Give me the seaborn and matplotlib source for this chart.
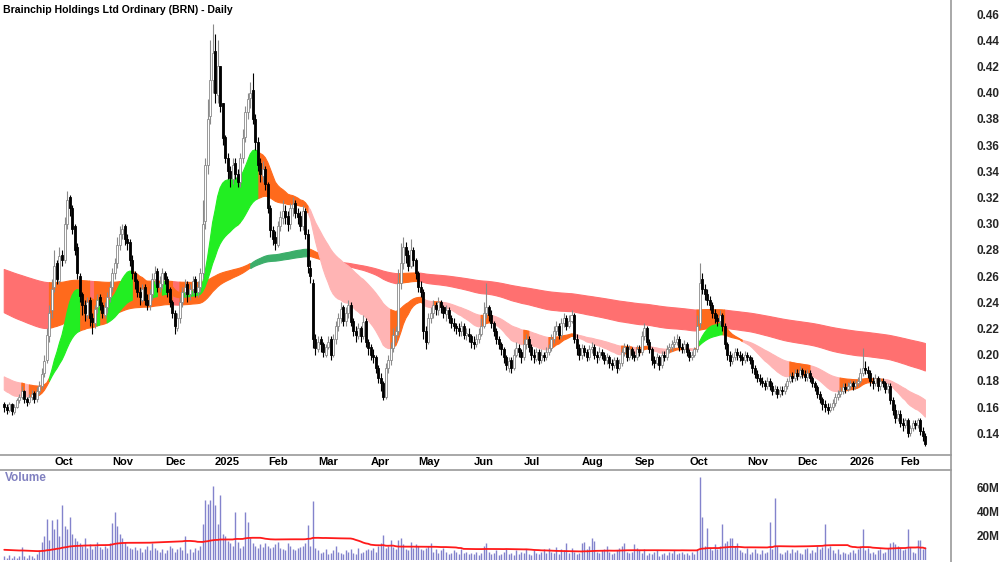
import numpy as np
import pandas as pd
import matplotlib
matplotlib.use("Agg")
import matplotlib.pyplot as plt
from matplotlib.lines import Line2D
import seaborn as sns

# daily bars, prices in 1/1000 $, volume in millions
start_date = "2024-09-04"
asx_holidays = ["2024-12-25", "2024-12-26", "2025-01-01", "2025-01-27", "2025-04-18",
                "2025-04-21", "2025-04-25", "2025-06-09", "2025-12-25", "2025-12-26",
                "2026-01-01", "2026-01-26"]

opens = [
    162, 160, 158, 162, 156, 160, 165, 168, 172, 166, 164, 168, 171, 166, 172, 176, 186, 196, 214, 234,
    252, 270, 256, 276, 272, 300, 320, 312, 298, 282, 260, 246, 238, 230, 242, 228, 224, 236, 244, 238,
    230, 236, 244, 252, 262, 270, 284, 292, 298, 288, 286, 272, 262, 256, 248, 242, 252, 242, 238, 246,
    258, 264, 252, 254, 262, 258, 250, 240, 232, 220, 228, 240, 248, 254, 246, 250, 258, 248, 252, 262,
    302, 345, 382, 410, 432, 398, 420, 392, 366, 350, 340, 334, 346, 338, 332, 350, 366, 385, 396, 402,
    380, 362, 346, 336, 342, 330, 312, 295, 290, 284, 298, 304, 310, 306, 300, 312, 316, 308, 306, 298,
    310, 292, 266, 255, 212, 204, 212, 208, 200, 206, 212, 200, 212, 222, 228, 236, 226, 232, 238, 226,
    218, 214, 220, 214, 226, 210, 206, 200, 198, 190, 182, 178, 168, 190, 196, 205, 215, 218, 255, 270,
    282, 276, 268, 280, 272, 262, 252, 248, 218, 210, 228, 232, 238, 234, 240, 236, 231, 234, 228, 224,
    222, 220, 218, 222, 215, 216, 214, 210, 208, 212, 216, 222, 232, 236, 230, 224, 218, 212, 208, 204,
    198, 190, 196, 190, 200, 205, 202, 198, 208, 212, 206, 200, 197, 202, 196, 200, 198, 202, 205, 212,
    218, 222, 215, 224, 228, 222, 226, 230, 212, 205, 200, 205, 202, 198, 204, 206, 200, 198, 202, 200,
    196, 198, 194, 192, 196, 190, 194, 202, 206, 198, 204, 200, 198, 204, 202, 214, 220, 210, 204, 196,
    194, 198, 192, 200, 198, 204, 206, 208, 210, 212, 206, 204, 208, 202, 198, 200, 204, 224, 258, 250,
    246, 242, 238, 232, 228, 226, 230, 222, 208, 200, 195, 198, 202, 200, 198, 196, 200, 198, 196, 190,
    185, 182, 180, 178, 176, 180, 176, 172, 174, 170, 173, 172, 176, 180, 184, 182, 186, 184, 188, 185,
    183, 186, 182, 178, 175, 170, 166, 162, 160, 158, 160, 163, 168, 170, 172, 175, 174, 176, 178, 176,
    178, 180, 186, 190, 188, 186, 180, 178, 182, 176, 180, 178, 174, 176, 165, 158, 152, 155, 148, 146,
    150, 140, 144, 148, 146, 150, 142, 138,
]
highs = [
    164, 162, 164, 163, 162, 167, 170, 176, 173, 168, 170, 173, 172, 175, 180, 190, 200, 220, 238, 258,
    280, 272, 282, 280, 305, 325, 322, 314, 300, 285, 262, 248, 242, 244, 244, 232, 238, 246, 246, 240,
    240, 248, 256, 266, 274, 290, 298, 300, 300, 292, 288, 276, 264, 258, 252, 254, 254, 246, 250, 262,
    268, 266, 260, 266, 264, 260, 252, 242, 234, 232, 244, 252, 258, 256, 254, 260, 260, 256, 266, 318,
    350, 395, 440, 452, 445, 440, 420, 392, 368, 354, 344, 350, 350, 342, 354, 372, 390, 400, 408, 415,
    384, 366, 350, 348, 344, 332, 314, 298, 294, 302, 310, 318, 314, 310, 316, 320, 318, 312, 310, 314,
    312, 296, 272, 258, 216, 214, 214, 210, 208, 214, 214, 216, 226, 232, 240, 238, 236, 242, 240, 228,
    222, 224, 222, 230, 228, 212, 208, 204, 200, 192, 186, 180, 194, 200, 210, 220, 222, 265, 285, 290,
    286, 280, 288, 282, 274, 264, 256, 250, 222, 232, 236, 242, 240, 244, 242, 238, 238, 236, 230, 228,
    224, 224, 226, 224, 220, 220, 216, 214, 216, 220, 228, 240, 255, 238, 234, 226, 220, 214, 210, 206,
    200, 198, 198, 204, 210, 208, 204, 212, 216, 214, 208, 204, 205, 204, 204, 202, 206, 208, 216, 222,
    226, 224, 228, 232, 230, 230, 234, 232, 216, 208, 208, 207, 204, 207, 210, 208, 203, 206, 204, 202,
    201, 200, 197, 198, 198, 197, 205, 209, 208, 207, 206, 203, 207, 207, 218, 224, 222, 212, 206, 199,
    201, 200, 203, 203, 207, 209, 211, 214, 216, 214, 209, 211, 210, 204, 203, 206, 230, 270, 262, 254,
    250, 245, 240, 235, 231, 234, 232, 224, 210, 203, 201, 205, 205, 203, 201, 203, 202, 200, 198, 192,
    188, 185, 183, 181, 183, 182, 179, 177, 176, 176, 176, 178, 182, 186, 187, 189, 189, 191, 190, 188,
    189, 188, 184, 180, 177, 172, 168, 165, 163, 163, 166, 171, 173, 175, 178, 178, 179, 181, 180, 181,
    183, 190, 205, 195, 191, 188, 183, 185, 184, 182, 182, 180, 178, 178, 168, 162, 158, 158, 152, 152,
    152, 146, 150, 150, 152, 152, 145, 140,
]
lows = [
    156, 155, 156, 154, 155, 159, 163, 166, 163, 161, 162, 165, 163, 164, 170, 174, 183, 194, 210, 228,
    248, 254, 254, 268, 270, 296, 306, 292, 276, 258, 240, 230, 226, 228, 222, 216, 220, 232, 234, 228,
    228, 232, 240, 248, 258, 266, 280, 288, 284, 280, 268, 258, 250, 244, 238, 240, 238, 234, 234, 242,
    254, 248, 248, 250, 254, 244, 236, 228, 216, 218, 224, 236, 244, 240, 242, 246, 244, 244, 248, 258,
    296, 338, 376, 400, 392, 392, 385, 360, 346, 334, 328, 330, 334, 328, 328, 346, 362, 380, 388, 376,
    356, 340, 332, 332, 326, 308, 290, 284, 280, 282, 294, 300, 300, 294, 296, 306, 304, 300, 294, 295,
    288, 262, 255, 205, 200, 202, 202, 198, 198, 204, 196, 198, 208, 218, 224, 222, 222, 228, 222, 214,
    210, 212, 210, 212, 206, 200, 196, 194, 186, 178, 172, 165, 166, 186, 192, 202, 210, 215, 250, 265,
    270, 264, 266, 268, 258, 248, 244, 212, 204, 208, 224, 228, 230, 230, 232, 228, 226, 224, 220, 218,
    216, 214, 214, 212, 211, 210, 205, 204, 206, 209, 214, 220, 228, 226, 220, 214, 208, 204, 200, 194,
    188, 187, 186, 188, 198, 198, 194, 196, 204, 202, 196, 194, 195, 193, 194, 195, 196, 200, 203, 209,
    215, 212, 213, 221, 219, 220, 224, 209, 200, 196, 197, 199, 195, 196, 201, 197, 194, 196, 197, 193,
    193, 190, 188, 190, 186, 188, 191, 199, 195, 196, 197, 195, 196, 199, 200, 211, 207, 201, 192, 190,
    192, 188, 190, 195, 196, 201, 203, 205, 207, 203, 201, 201, 199, 195, 196, 198, 202, 220, 246, 242,
    238, 234, 228, 224, 222, 223, 218, 204, 196, 191, 193, 196, 196, 195, 192, 194, 195, 193, 186, 182,
    179, 177, 175, 173, 174, 173, 169, 170, 167, 168, 169, 170, 174, 178, 179, 180, 181, 182, 182, 180,
    180, 179, 175, 172, 167, 163, 158, 156, 155, 156, 158, 161, 165, 168, 170, 171, 172, 174, 173, 174,
    176, 178, 184, 185, 182, 176, 174, 176, 172, 173, 175, 171, 171, 162, 154, 148, 149, 145, 142, 144,
    137, 138, 142, 143, 144, 139, 134, 130,
]
closes = [
    160, 158, 162, 157, 160, 165, 168, 172, 166, 164, 168, 170, 166, 172, 176, 185, 195, 215, 232, 250,
    268, 258, 275, 272, 300, 318, 312, 296, 280, 262, 245, 238, 232, 240, 228, 225, 235, 242, 238, 232,
    236, 244, 252, 262, 270, 284, 292, 296, 288, 285, 272, 262, 256, 248, 244, 250, 242, 238, 246, 258,
    262, 252, 255, 262, 258, 248, 240, 232, 222, 228, 240, 248, 252, 246, 250, 256, 248, 252, 262, 300,
    345, 380, 410, 430, 400, 420, 390, 365, 350, 340, 335, 345, 338, 332, 350, 365, 385, 395, 400, 380,
    362, 345, 338, 342, 330, 312, 295, 288, 285, 298, 305, 310, 305, 300, 312, 315, 308, 305, 298, 310,
    292, 268, 260, 212, 205, 210, 208, 202, 206, 210, 200, 212, 222, 228, 235, 226, 232, 238, 225, 218,
    215, 220, 214, 225, 210, 205, 200, 198, 190, 182, 178, 168, 190, 196, 205, 215, 218, 255, 270, 282,
    276, 268, 280, 272, 262, 252, 248, 218, 210, 228, 232, 238, 235, 240, 236, 232, 234, 228, 224, 222,
    220, 218, 222, 215, 216, 214, 210, 208, 212, 216, 222, 232, 236, 230, 224, 218, 212, 208, 204, 198,
    192, 195, 190, 200, 205, 202, 198, 208, 212, 206, 200, 198, 202, 196, 200, 198, 202, 205, 212, 218,
    222, 215, 224, 228, 222, 226, 230, 212, 205, 200, 205, 202, 198, 204, 206, 200, 198, 202, 200, 196,
    198, 194, 192, 196, 190, 194, 202, 206, 198, 204, 200, 198, 204, 202, 214, 220, 210, 204, 196, 194,
    198, 192, 200, 198, 204, 206, 208, 210, 212, 206, 204, 208, 202, 198, 200, 204, 222, 255, 250, 246,
    242, 238, 232, 228, 226, 230, 222, 208, 200, 195, 198, 202, 200, 198, 196, 200, 198, 196, 190, 185,
    182, 180, 178, 176, 180, 176, 172, 174, 170, 173, 172, 176, 180, 184, 182, 186, 184, 188, 185, 183,
    186, 182, 178, 175, 170, 166, 162, 160, 158, 160, 163, 168, 170, 172, 175, 174, 176, 178, 176, 178,
    180, 186, 190, 188, 186, 180, 178, 182, 176, 180, 178, 174, 176, 165, 158, 152, 155, 148, 146, 150,
    140, 144, 148, 146, 150, 142, 138, 132,
]
volumes = [
    3, 2, 4, 2, 3, 2, 3, 11, 3, 2, 4, 3, 2, 5, 8, 15, 20, 34, 17, 33,
    26, 34, 20, 46, 28, 26, 36, 22, 18, 16, 14, 12, 18, 10, 13, 9, 12, 15, 11, 9,
    12, 10, 14, 31, 40, 28, 22, 18, 15, 12, 10, 9, 11, 8, 10, 7, 9, 12, 8, 14,
    10, 8, 7, 9, 6, 8, 12, 10, 7, 9, 11, 8, 20, 6, 9, 7, 10, 8, 12, 30,
    50, 47, 50, 62, 46, 30, 54, 22, 20, 16, 14, 12, 40, 15, 10, 12, 40, 32, 18, 14,
    12, 10, 13, 11, 14, 12, 10, 11, 13, 15, 10, 9, 8, 14, 12, 9, 8, 10, 11, 12,
    14, 29, 12, 49, 10, 8, 6, 7, 9, 5, 6, 8, 12, 7, 6, 5, 8, 7, 9, 6,
    5, 10, 6, 7, 8, 9, 8, 10, 7, 12, 14, 21, 10, 12, 17, 11, 9, 17, 18, 13,
    9, 8, 15, 10, 13, 12, 9, 8, 10, 12, 14, 7, 9, 6, 8, 10, 7, 5, 6, 8,
    7, 5, 9, 6, 7, 5, 6, 5, 7, 4, 6, 12, 14, 7, 5, 6, 8, 4, 5, 7,
    9, 5, 6, 4, 8, 5, 7, 6, 9, 5, 4, 8, 6, 5, 7, 9, 6, 10, 7, 6,
    11, 5, 9, 8, 14, 6, 10, 7, 5, 6, 14, 15, 9, 12, 18, 16, 7, 6, 8, 9,
    12, 7, 5, 6, 8, 10, 12, 14, 7, 6, 7, 13, 10, 8, 6, 9, 4, 6, 5, 7,
    8, 3, 5, 6, 4, 7, 6, 8, 5, 6, 7, 5, 6, 4, 7, 5, 9, 69, 36, 12,
    27, 10, 8, 13, 9, 12, 30, 14, 16, 18, 18, 12, 14, 8, 7, 6, 10, 5, 7, 9,
    6, 5, 8, 6, 7, 32, 9, 52, 12, 6, 5, 7, 8, 6, 9, 7, 8, 6, 5, 9,
    10, 6, 8, 7, 12, 9, 11, 30, 10, 12, 8, 6, 9, 5, 7, 6, 5, 7, 8, 6,
    9, 12, 26, 8, 10, 6, 7, 5, 8, 9, 6, 7, 10, 14, 15, 13, 12, 10, 8, 9,
    26, 11, 7, 6, 17, 17, 9, 11,
]

# ribbon settings and their left-edge values
short_periods = [20, 25, 30, 35, 40, 50]
long_periods = [150, 175, 200, 225, 250, 300]
short_seed = [0.173, 0.175, 0.177, 0.179, 0.181, 0.183]
long_seed = [0.232, 0.238, 0.245, 0.252, 0.258, 0.265]
vol_ma_len = 60
vol_ma_seed = 8.6

price_ticks = [0.14, 0.16, 0.18, 0.20, 0.22, 0.24, 0.26, 0.28, 0.30, 0.32,
               0.34, 0.36, 0.38, 0.40, 0.42, 0.44, 0.46]
vol_ticks = [20, 40, 60]
title = "Brainchip Holdings Ltd Ordinary (BRN) - Daily"


def ema(values, period, seed):
    k = 2.0 / (period + 1)
    out = np.empty(len(values))
    e = seed
    for i, v in enumerate(values):
        if i > 0:
            e = e + k * (v - e)
        out[i] = e
    return out


def draw_ribbon(ax, x, lines, colors, z):
    # green: fast above slow and both rising, red: fast below slow and both falling,
    # orange: anything in between
    arr = np.vstack(lines)
    fast, slow = arr[0], arr[-1]
    df = np.diff(fast, prepend=fast[0])
    ds = np.diff(slow, prepend=slow[0])
    upm = (fast > slow) & (df >= 0) & (ds >= 0)
    dnm = (fast < slow) & (df <= 0) & (ds <= 0)
    state = np.where(upm, 1, np.where(dnm, -1, 0))
    lo, hi = arr.min(axis=0), arr.max(axis=0)
    for s, col in colors.items():
        m = state == s
        m2 = m.copy()
        m2[1:] |= m[:-1]
        ax.fill_between(x, lo, hi, where=m2, color=col, lw=0.8, zorder=z)


def main():
    o = np.array(opens) / 1000
    h = np.array(highs) / 1000
    l = np.array(lows) / 1000
    c = np.array(closes) / 1000
    v = np.array(volumes, dtype=float)
    n = len(c)
    x = np.arange(n)
    dates = pd.bdate_range(start_date, periods=n, freq="C", holidays=asx_holidays)

    short = [ema(c, p, s) for p, s in zip(short_periods, short_seed)]
    longr = [ema(c, p, s) for p, s in zip(long_periods, long_seed)]
    padded = pd.Series([vol_ma_seed] * (vol_ma_len - 1) + list(v))
    vol_ma = padded.rolling(vol_ma_len).mean().to_numpy()[vol_ma_len - 1:]

    sns.set_theme(style="white")
    plt.rcParams["font.family"] = ["Liberation Sans Narrow", "Liberation Sans", "DejaVu Sans"]

    fig = plt.figure(figsize=(10, 5.62), dpi=100)
    W, H = 1000, 562
    ax = fig.add_axes([0, (H - 455) / H, 951 / W, 455 / H])
    axv = fig.add_axes([0, (H - 560) / H, 951 / W, 90 / H])

    xlim = (-1.7, 377.2)

    # ribbons
    draw_ribbon(ax, x, longr, {-1: "#ff7070", 0: "#ff6a1c", 1: "#3cae6a"}, 1)
    draw_ribbon(ax, x, short, {-1: "#ffb4b4", 0: "#ff6a1c", 1: "#22ee22"}, 2)

    # candles
    up = c >= o
    body_lo = np.minimum(o, c)
    body_h = np.maximum(np.abs(c - o), 0.0012)
    ax.vlines(x[up], l[up], h[up], color="#8a8a8a", lw=0.8, zorder=3)
    ax.vlines(x[~up], l[~up], h[~up], color="black", lw=0.8, zorder=3)
    ax.bar(x[up], body_h[up], bottom=body_lo[up], width=0.8, color="white",
           edgecolor="#8a8a8a", linewidth=0.6, zorder=4)
    ax.bar(x[~up], body_h[~up], bottom=body_lo[~up], width=0.8, color="black",
           edgecolor="black", linewidth=0.6, zorder=4)

    ax.set_xlim(*xlim)
    ax.set_ylim(0.1234, 0.4707)
    ax.yaxis.tick_right()
    ax.set_yticks(price_ticks)
    ax.set_yticklabels([f"{t:.2f}" for t in price_ticks])
    ax.tick_params(axis="y", length=0, pad=18.5, labelsize=8.5)
    for lab in ax.get_yticklabels():
        lab.set_fontweight("bold")

    # month ticks / labels in the strip under the price panel
    per = dates.to_period("M")
    firsts = [i for i in range(1, n) if per[i] != per[i - 1]]
    ax.set_xticks(firsts)
    ax.tick_params(axis="x", direction="out", length=3, color="#888888",
                   width=0.8, labelbottom=False)
    trans = ax.get_xaxis_transform()
    for i in firsts:
        d = dates[i]
        lab = str(d.year) if d.month == 1 else d.strftime("%b")
        ax.text(i + 1.0, -7 / 455, lab, transform=trans, ha="left", va="center",
                fontsize=8, fontweight="bold", color="black")

    for s in ["top", "left", "right"]:
        ax.spines[s].set_visible(False)
    ax.spines["bottom"].set_color("#999999")
    ax.spines["bottom"].set_linewidth(1.2)

    # volume panel
    axv.vlines(x, 0, v, color="#8383cc", lw=1.0, zorder=2)
    sns.lineplot(x=x, y=vol_ma, ax=axv, color="#ff1a1a", lw=1.3, zorder=3)
    axv.set_xlim(*xlim)
    axv.set_ylim(0, 75)
    axv.yaxis.tick_right()
    axv.set_yticks(vol_ticks)
    axv.set_yticklabels([f"{t}M" for t in vol_ticks])
    axv.tick_params(axis="y", length=0, pad=18.5, labelsize=8.5)
    for lab in axv.get_yticklabels():
        lab.set_fontweight("bold")
    axv.set_xticks([])
    axv.set_ylabel("")
    for s in ["bottom", "left", "right"]:
        axv.spines[s].set_visible(False)
    axv.spines["top"].set_color("#999999")
    axv.spines["top"].set_linewidth(1.2)
    axv.text(5 / 951, 1 - 8 / 90, "Volume", transform=axv.transAxes, ha="left",
             va="center", fontsize=8.5, fontweight="bold", color="#8080c0")

    fig.add_artist(Line2D([951 / W, 951 / W], [0, 1], transform=fig.transFigure,
                          color="#999999", lw=1.2))
    fig.text(3 / W, 1 - 10 / H, title, ha="left", va="center", fontsize=7.6,
             fontweight="bold", color="black")

    fig.savefig("out.png", dpi=100)


if __name__ == "__main__":
    main()
